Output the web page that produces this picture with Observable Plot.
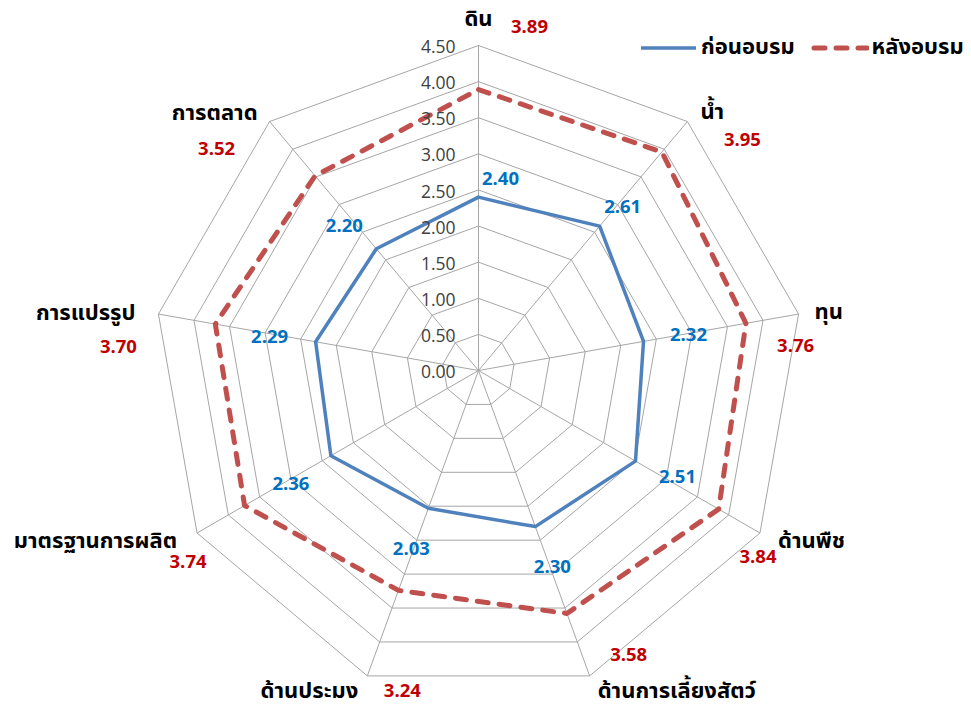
<!DOCTYPE html>
<html>
<head>
<meta charset="utf-8">
<script src="https://cdn.jsdelivr.net/npm/d3@7"></script>
<script src="https://cdn.jsdelivr.net/npm/@observablehq/plot@0.6"></script>
<style>
  html, body { margin: 0; padding: 0; background: #fff; }
  #wrap { position: relative; width: 971px; height: 707px; overflow: hidden; }
  #legend { position: absolute; top: 33px; left: 640px; width: 340px; display: flex; align-items: center; white-space: nowrap;
    font-family: Tahoma, "Noto Sans Thai", "Noto Sans", sans-serif; font-weight: bold; font-size: 22px; line-height: 30px; color: #000; }
  #legend .item { display: flex; align-items: center; margin-right: 16px; white-space: nowrap; flex: none; }
  #legend svg { margin-right: 3px; flex: none; }
</style>
</head>
<body>
<div id="wrap">
  <div id="chart"></div>
  <div id="legend"></div>
</div>
<script>
// ---- data ----
const categories = ["ดิน", "น้ำ", "ทุน", "ด้านพืช", "ด้านการเลี้ยงสัตว์", "ด้านประมง", "มาตรฐานการผลิต", "การแปรรูป", "การตลาด"];
const beforeValues = [2.40, 2.61, 2.32, 2.51, 2.30, 2.03, 2.36, 2.29, 2.20];
const afterValues = [3.89, 3.95, 3.76, 3.84, 3.58, 3.24, 3.74, 3.70, 3.52];
const seriesNames = ["ก่อนอบรม", "หลังอบรม"];
const tickValues = [0, 0.5, 1, 1.5, 2, 2.5, 3, 3.5, 4, 4.5];

// ---- layout (label nudges in pixels, like manually moved Excel labels) ----
const catAnchor = ["middle", "start", "start", "start", "start", "end", "end", "end", "end"];
const catNudge = [[0, -27], [13, -10], [16, -2], [18, 8], [8, 15], [-9, 15], [-20, 8], [-23, -1], [-12, -9]];
const afterNudge = [[51, -18], [55, 19], [-3, 32], [-2, 24], [39, -21], [35, 15], [-9, 29], [-40, 33], [-53, 28]];
const beforeNudge = [[22, -18], [23, -19], [45, -6], [42, 16], [17, 40], [-17, 41], [-40, 28], [-46, -5], [-32, -23]];

const maxR = 4.5;
const cx = 478, cy = 370, Rpx = 325;
const k = Rpx / maxR; // pixels per unit
const n = categories.length;
const ang = i => i * 2 * Math.PI / n;
const px = (r, i) => r * Math.sin(ang(i));
const py = (r, i) => r * Math.cos(ang(i));

const FONT = 'Tahoma, "Noto Sans Thai", "Noto Sans", sans-serif';
const NUMFONT = '"Open Sans", "Noto Sans", sans-serif';

// grid rings
const ringRadii = tickValues.filter(t => t > 0);
const rings = [];
ringRadii.forEach(r => {
  for (let i = 0; i <= n; i++) rings.push({ ring: r, x: px(r, i % n), y: py(r, i % n) });
});
const spokes = categories.map((c, i) => ({ x1: 0, y1: 0, x2: px(maxR, i), y2: py(maxR, i) }));

function seriesPath(vals, name) {
  const pts = vals.map((v, i) => ({ series: name, x: px(v, i), y: py(v, i) }));
  pts.push({ ...pts[0] });
  return pts;
}
const beforePath = seriesPath(beforeValues, seriesNames[0]);
const afterPath = seriesPath(afterValues, seriesNames[1]);

const nudged = (r, i, nd) => ({ x: px(r, i) + nd[0] / k, y: py(r, i) - nd[1] / k });

const catLabels = categories.map((c, i) => ({ label: c, anchor: catAnchor[i], ...nudged(maxR, i, catNudge[i]) }));
const afterLabels = afterValues.map((v, i) => ({ label: v.toFixed(2), ...nudged(maxR, i, afterNudge[i]) }));
const beforeLabels = beforeValues.map((v, i) => ({ label: v.toFixed(2), ...nudged(v, i, beforeNudge[i]) }));
const tickLabels = tickValues.map(t => ({ x: 0, y: t, label: t.toFixed(2) }));

const textMarksFor = anchor => Plot.text(catLabels.filter(d => d.anchor === anchor), {
  x: "x", y: "y", text: "label", textAnchor: anchor, fontFamily: FONT, fontWeight: "bold",
  fontSize: 22, fill: "#000"
});

const chart = Plot.plot({
  width: 971, height: 707,
  marginTop: 0, marginRight: 0, marginBottom: 0, marginLeft: 0,
  x: { domain: [-maxR, maxR], range: [cx - Rpx, cx + Rpx], axis: null },
  y: { domain: [-maxR, maxR], range: [cy + Rpx, cy - Rpx], axis: null },
  style: { background: "transparent", overflow: "visible" },
  marks: [
    Plot.line(rings, { x: "x", y: "y", z: "ring", stroke: "#a6a6a6", strokeWidth: 1, curve: "linear" }),
    Plot.link(spokes, { x1: "x1", y1: "y1", x2: "x2", y2: "y2", stroke: "#a6a6a6", strokeWidth: 1 }),
    Plot.line(beforePath, { x: "x", y: "y", stroke: "#4F81BD", strokeWidth: 3.5, strokeLinejoin: "round" }),
    Plot.line(afterPath, { x: "x", y: "y", stroke: "#C0504D", strokeWidth: 5, strokeDasharray: "11,11", strokeLinecap: "round", strokeLinejoin: "round" }),
    Plot.text(tickLabels, { x: "x", y: "y", text: "label", textAnchor: "end", dx: -23, dy: 2, fontFamily: NUMFONT, fontSize: 17.5, fill: "#404040" }),
    textMarksFor("middle"), textMarksFor("start"), textMarksFor("end"),
    Plot.text(afterLabels, { x: "x", y: "y", text: "label", fontFamily: NUMFONT, fontWeight: "bold", fontSize: 18.5, fill: "#C00000" }),
    Plot.text(beforeLabels, { x: "x", y: "y", text: "label", fontFamily: NUMFONT, fontWeight: "bold", fontSize: 18.5, fill: "#0070C0" })
  ]
});
document.getElementById("chart").appendChild(chart);

// legend
const legendStyles = [
  { color: "#4F81BD", width: 3.5, dash: null, cap: "butt" },
  { color: "#C0504D", width: 5, dash: "11,11", cap: "round" }
];
const legend = document.getElementById("legend");
seriesNames.forEach((name, i) => {
  const st = legendStyles[i];
  const item = document.createElement("div");
  item.className = "item";
  const dash = st.dash ? `stroke-dasharray="${st.dash}"` : "";
  item.innerHTML = `<svg width="58" height="14"><line x1="${st.cap === 'round' ? 3 : 1}" y1="7" x2="56" y2="7" stroke="${st.color}" stroke-width="${st.width}" ${dash} stroke-linecap="${st.cap}"/></svg><span>${name}</span>`;
  legend.appendChild(item);
});
</script>
</body>
</html>
